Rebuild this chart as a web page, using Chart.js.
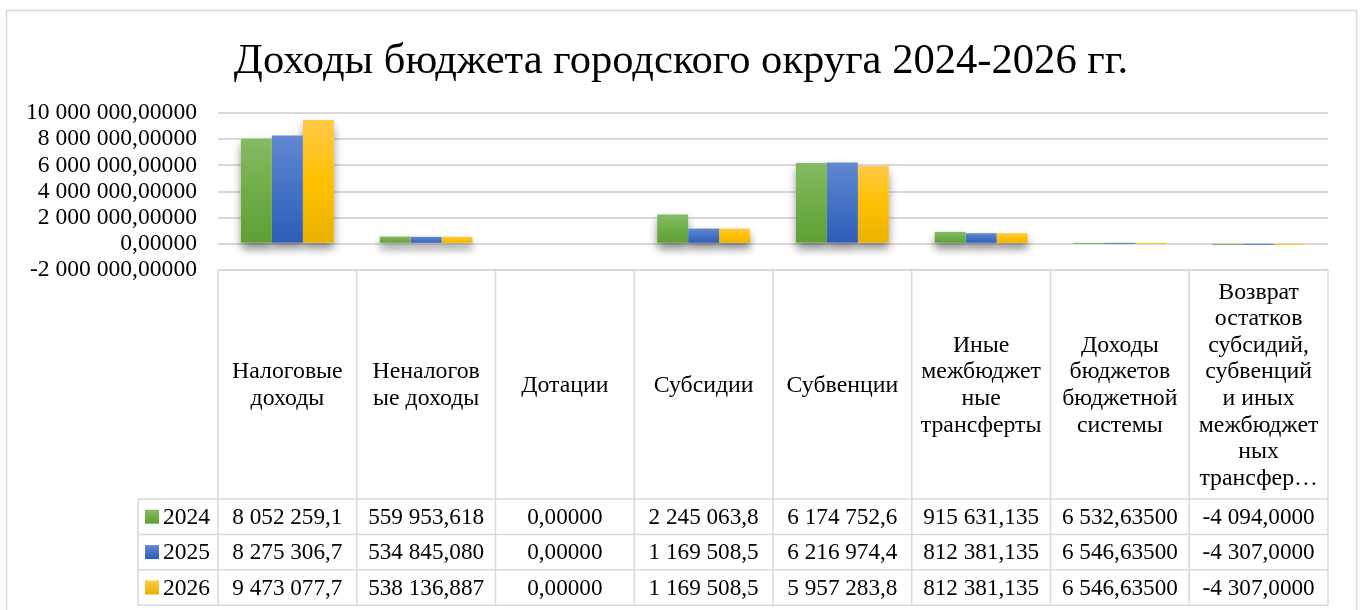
<!DOCTYPE html>
<html>
<head>
<meta charset="utf-8">
<style>
html,body{margin:0;padding:0;background:#fff;}
#wrap{width:1362px;height:610px;position:relative;}
</style>
<script src="https://cdn.jsdelivr.net/npm/chart.js@4/dist/chart.umd.min.js"></script>
</head>
<body>
<div id="wrap"><canvas id="c" width="1362" height="610"></canvas></div>
<script>
// ---------- DATA ----------
const chartTitle = 'Доходы бюджета городского округа 2024-2026 гг.';
const categories = [
  ['Налоговые', 'доходы'],
  ['Неналогов', 'ые доходы'],
  ['Дотации'],
  ['Субсидии'],
  ['Субвенции'],
  ['Иные', 'межбюджет', 'ные', 'трансферты'],
  ['Доходы', 'бюджетов', 'бюджетной', 'системы'],
  ['Возврат', 'остатков', 'субсидий,', 'субвенций', 'и иных', 'межбюджет', 'ных', 'трансфер…']
];
const seriesNames = ['2024', '2025', '2026'];
const values2024 = [8052259.1, 559953.618, 0, 2245063.8, 6174752.6, 915631.135, 6532.635, -4094];
const values2025 = [8275306.7, 534845.080, 0, 1169508.5, 6216974.4, 812381.135, 6546.635, -4307];
const values2026 = [9473077.7, 538136.887, 0, 1169508.5, 5957283.8, 812381.135, 6546.635, -4307];
const yMin = -2000000, yMax = 10000000, yStep = 2000000;

// ---------- STYLE ----------
const FONT = '"Liberation Serif", "Times New Roman", serif';
const palette = [
  {base: '#70ad47', light: '#86bb65', dark: '#5e9f34'},
  {base: '#4472c4', light: '#6188d0', dark: '#2e5cb9'},
  {base: '#ffc000', light: '#ffc947', dark: '#e8b100'}
];

function fmt(v) {
  const neg = v < 0;
  const s = Math.abs(v).toFixed(5);
  let [ip, fp] = s.split('.');
  ip = ip.replace(/\B(?=(\d{3})+(?!\d))/g, ' ');
  return (neg ? '-' : '') + ip + ',' + fp;
}
function fmtCell(v) {
  let s = fmt(v);
  if (s.length > 11) s = s.slice(0, 11);
  return s.replace(/,$/, '');
}

function gradFill(i) {
  const p = palette[i];
  return (ctx) => {
    const chart = ctx.chart;
    if (ctx.type !== 'data' || !chart.chartArea || !chart.scales.y || !ctx.parsed) return p.base;
    const ys = chart.scales.y;
    const v = ctx.parsed.y;
    const t = ys.getPixelForValue(Math.max(v, 0));
    const b = ys.getPixelForValue(Math.min(v, 0));
    if (b - t < 1) return p.base;
    const g = chart.ctx.createLinearGradient(0, t, 0, b);
    g.addColorStop(0, p.light);
    g.addColorStop(0.5, p.base);
    g.addColorStop(1, p.dark);
    return g;
  };
}

const seriesValues = [values2024, values2025, values2026];

const framePlugin = {
  id: 'frame',
  beforeDraw(chart) {
    const ctx = chart.ctx;
    ctx.save();
    ctx.fillStyle = '#fff';
    ctx.fillRect(0, 0, chart.width, chart.height);
    ctx.strokeStyle = '#d9d9d9';
    ctx.lineWidth = 1.5;
    ctx.strokeRect(6.5, 10.5, 1350, 640);
    // title
    ctx.fillStyle = '#000';
    ctx.font = '42.6px ' + FONT;
    ctx.textAlign = 'center';
    ctx.textBaseline = 'middle';
    ctx.fillText(chartTitle, 681, 62);
    ctx.restore();
  }
};

const shadowPlugin = {
  id: 'barShadow',
  beforeDatasetsDraw(chart) {
    const ctx = chart.ctx;
    ctx.save();
    ctx.shadowColor = 'rgba(0,0,0,0.45)';
    ctx.shadowBlur = 9;
    ctx.shadowOffsetX = 0;
    ctx.shadowOffsetY = 6;
    ctx.fillStyle = '#ffffff';
    chart.data.datasets.forEach((ds, di) => {
      const meta = chart.getDatasetMeta(di);
      meta.data.forEach(el => {
        const {x, y, base, width} = el.getProps(['x', 'y', 'base', 'width'], true);
        const top = Math.min(y, base), h = Math.abs(base - y);
        if (h >= 1) ctx.fillRect(x - width / 2, top, width, h);
      });
    });
    ctx.restore();
  }
};

const tablePlugin = {
  id: 'dataTable',
  afterDraw(chart) {
    const ctx = chart.ctx;
    const ca = chart.chartArea;
    const xs = chart.scales.x;
    const n = categories.length;
    const w = ca.width / n;
    const top = ca.bottom;
    const headerBottom = 499;
    const rowH = 35.4;
    const legendLeft = 138;
    const bottom = headerBottom + rowH * seriesNames.length;
    ctx.save();
    ctx.strokeStyle = '#d9d9d9';
    ctx.lineWidth = 1.5;
    const line = (x1, y1, x2, y2) => { ctx.beginPath(); ctx.moveTo(x1, y1); ctx.lineTo(x2, y2); ctx.stroke(); };
    line(ca.left, top, ca.right, top);
    for (let r = 0; r <= seriesNames.length; r++) {
      const yy = headerBottom + r * rowH;
      line(legendLeft, yy, ca.right, yy);
    }
    for (let i = 0; i <= n; i++) {
      const xx = ca.left + i * w;
      line(xx, top, xx, bottom);
    }
    line(legendLeft, headerBottom, legendLeft, bottom);

    ctx.fillStyle = '#000';
    ctx.font = '23.8px ' + FONT;
    ctx.textAlign = 'center';
    ctx.textBaseline = 'middle';
    const lh = 26.6;
    const hc = (top + headerBottom) / 2;
    categories.forEach((lines, i) => {
      const cx = xs.getPixelForValue(i);
      const y0 = hc - (lines.length - 1) * lh / 2;
      lines.forEach((t, k) => ctx.fillText(t, cx, y0 + k * lh + 1));
    });

    seriesNames.forEach((name, s) => {
      const cy = headerBottom + (s + 0.5) * rowH;
      const p = palette[s];
      const g = ctx.createLinearGradient(0, cy - 7, 0, cy + 7);
      g.addColorStop(0, p.light); g.addColorStop(1, p.dark);
      ctx.fillStyle = g;
      ctx.fillRect(legendLeft + 7, cy - 7, 14, 14);
      ctx.fillStyle = '#000';
      ctx.textAlign = 'left';
      ctx.font = '23.5px ' + FONT;
      ctx.fillText(name, legendLeft + 25, cy + 1);
      ctx.textAlign = 'center';
      ctx.font = '23.2px ' + FONT;
      seriesValues[s].forEach((v, i) => {
        ctx.fillText(fmtCell(v), xs.getPixelForValue(i), cy + 1);
      });
    });
    ctx.restore();
  }
};

new Chart(document.getElementById('c'), {
  type: 'bar',
  data: {
    labels: categories,
    datasets: seriesNames.map((name, i) => ({
      label: name,
      data: seriesValues[i],
      backgroundColor: gradFill(i),
      borderWidth: 0,
      barPercentage: 1,
      categoryPercentage: 0.67
    }))
  },
  options: {
    responsive: false,
    animation: false,
    layout: {padding: {top: 113, right: 34, bottom: 340, left: 0}},
    plugins: {
      legend: {display: false},
      title: {display: false},
      tooltip: {enabled: false}
    },
    scales: {
      x: {display: false},
      y: {
        min: yMin,
        max: yMax,
        ticks: {
          stepSize: yStep,
          autoSkip: false,
          callback: (v) => fmt(v),
          font: {family: FONT, size: 23.6},
          color: '#000',
          padding: 21
        },
        grid: {color: '#d9d9d9', lineWidth: 2, drawTicks: false},
        border: {display: false},
        afterFit: (s) => { s.width = 218; }
      }
    }
  },
  plugins: [framePlugin, shadowPlugin, tablePlugin]
});
</script>
</body>
</html>
